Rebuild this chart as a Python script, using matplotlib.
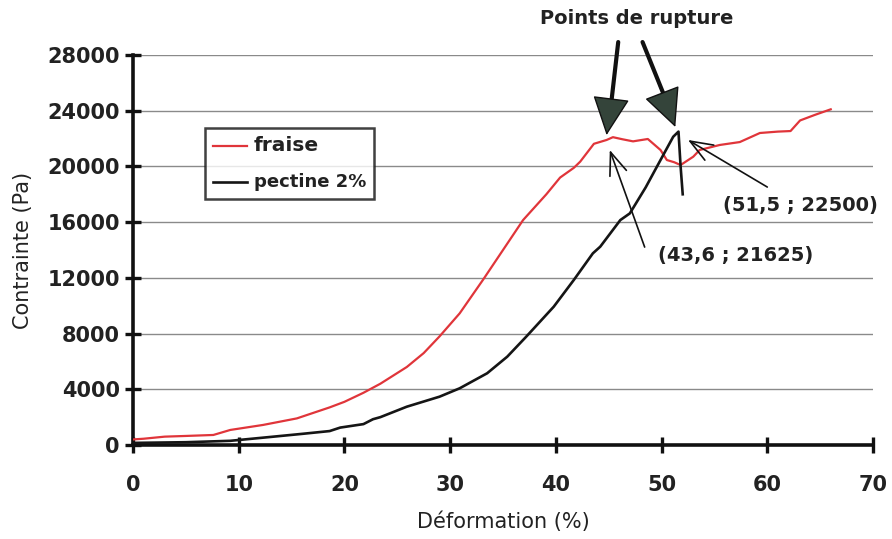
import matplotlib
matplotlib.use("Agg")
import matplotlib.pyplot as plt

plt.rcParams['font.family'] = ['DejaVu Sans']

# ---- data ----
fraise_x = [0, 1, 3, 5, 7.6, 9.2, 12.3, 15.5, 18.6, 20, 21.8, 23.4, 25.9, 27.5,
            29.0, 30.9, 33.1, 35.0, 36.9, 39.1, 40.4, 41.7, 42.3, 43.6, 44.8,
            45.4, 46.3, 47.3, 48.7, 49.9, 50.5, 51.2, 51.8, 53.0, 53.6, 55.5,
            57.4, 59.3, 61.0, 62.2, 63.1, 64.5, 66.0]
fraise_y = [400, 450, 600, 650, 720, 1080, 1440, 1910, 2700, 3100, 3750, 4400,
            5600, 6600, 7800, 9450, 11850, 14000, 16150, 18000, 19200, 19900,
            20340, 21625, 21900, 22100, 21950, 21800, 21970, 21180, 20460,
            20300, 20100, 20700, 21180, 21540, 21750, 22400, 22500, 22540,
            23300, 23700, 24100]

pectine_x = [0, 5, 9.2, 13.3, 16, 18.6, 19.6, 21.8, 22.7, 23.4, 25.9, 29.0,
             30.9, 33.5, 35.4, 37.2, 39.8, 41.7, 43.5, 44.2, 46.1, 47.0, 48.5,
             49.9, 51.1, 51.6, 51.8, 52.0]
pectine_y = [150, 200, 300, 600, 800, 1000, 1250, 1500, 1850, 2000, 2750, 3470,
             4070, 5150, 6340, 7780, 9930, 11850, 13760, 14240, 16150, 16630,
             18500, 20460, 22130, 22500, 20000, 18000]

x_ticks = [0, 10, 20, 30, 40, 50, 60, 70]
y_ticks = [0, 4000, 8000, 12000, 16000, 20000, 24000, 28000]

rupture_fraise = (43.6, 21625)
rupture_pectine = (51.5, 22500)

# ---- figure ----
fig = plt.figure(figsize=(8.92, 5.39), dpi=100)
ax = fig.add_axes([133/892, 1-445/539, (873-133)/892, (445-55)/539])

ax.plot(fraise_x, fraise_y, color='#e0353a', lw=1.6, label='fraise', zorder=3)
ax.plot(pectine_x, pectine_y, color='#151515', lw=1.9, label='pectine 2%', zorder=3)

ax.set_xlim(0, 70)
ax.set_ylim(0, 28000)
ax.set_xticks(x_ticks)
ax.set_yticks(y_ticks)
ax.set_xticklabels([str(v) for v in x_ticks], fontsize=15, fontweight='bold', color='#222')
ax.set_yticklabels([str(v) for v in y_ticks], fontsize=15, fontweight='bold', color='#222')

ax.yaxis.grid(True, color='#8a8a8a', lw=1.0)
ax.set_axisbelow(True)
for s in ['top', 'right']:
    ax.spines[s].set_visible(False)
for s in ['left', 'bottom']:
    ax.spines[s].set_linewidth(2.6)
    ax.spines[s].set_color('#111')
ax.tick_params(axis='both', direction='inout', length=11, width=2.4, color='#111')
ax.tick_params(axis='x', pad=16)
ax.tick_params(axis='y', pad=4)

ax.set_xlabel('Déformation (%)', fontsize=15, color='#222', labelpad=12)
ax.set_ylabel('Contrainte (Pa)', fontsize=15, color='#222', labelpad=10)

leg = ax.legend(loc='upper left', bbox_to_anchor=((205-133)/740, (445-128)/390),
                borderaxespad=0, frameon=True, fancybox=False, handlelength=2.4,
                handletextpad=0.5, borderpad=0.6, labelspacing=1.25)
leg.get_frame().set_edgecolor('#111')
leg.get_frame().set_linewidth(1.8)
texts = leg.get_texts()
texts[0].set_fontsize(14.5); texts[0].set_fontweight('bold'); texts[0].set_color('#222')
texts[1].set_fontsize(13); texts[1].set_fontweight('bold'); texts[1].set_color('#222')

# "Points de rupture" with thick arrows
ax.text(47.6, 30650, 'Points de rupture', fontsize=14, fontweight='bold',
        ha='center', va='center', color='#222', clip_on=False)
shaft = dict(arrowstyle='-', lw=3.0, color='#111', shrinkA=0, shrinkB=0)
head = dict(arrowstyle='-|>,head_length=1.25,head_width=0.6', mutation_scale=20,
            lw=1.0, edgecolor='#111', facecolor='#34443a', shrinkA=0, shrinkB=0)
for (tx, ty), (hx, hy), (bx, by) in [((45.9, 28930), (44.8, 22250), (45.2, 24300)),
                                     ((48.2, 28930), (51.3, 22830), (50.4, 24800))]:
    ax.annotate('', xy=(bx, by), xytext=(tx, ty), arrowprops=shaft, annotation_clip=False)
    ax.annotate('', xy=(hx, hy), xytext=(tx, ty), arrowprops=head, annotation_clip=False)

# point labels with thin arrows
thin = dict(arrowstyle='->,head_length=0.9,head_width=0.35', mutation_scale=18,
            lw=1.2, color='#111', shrinkA=0, shrinkB=0)
ax.annotate('', xy=(52.5, 21900), xytext=(60.0, 18520), arrowprops=thin)
ax.text(63.1, 17230, '(%s ; %d)' % (str(rupture_pectine[0]).replace('.', ','), rupture_pectine[1]),
        fontsize=14, fontweight='bold', ha='center', va='center', color='#222')
ax.annotate('', xy=(45.1, 21180), xytext=(48.4, 14210), arrowprops=thin)
ax.text(57.0, 13570, '(%s ; %d)' % (str(rupture_fraise[0]).replace('.', ','), rupture_fraise[1]),
        fontsize=14, fontweight='bold', ha='center', va='center', color='#222')

fig.savefig('out.png', dpi=100)
